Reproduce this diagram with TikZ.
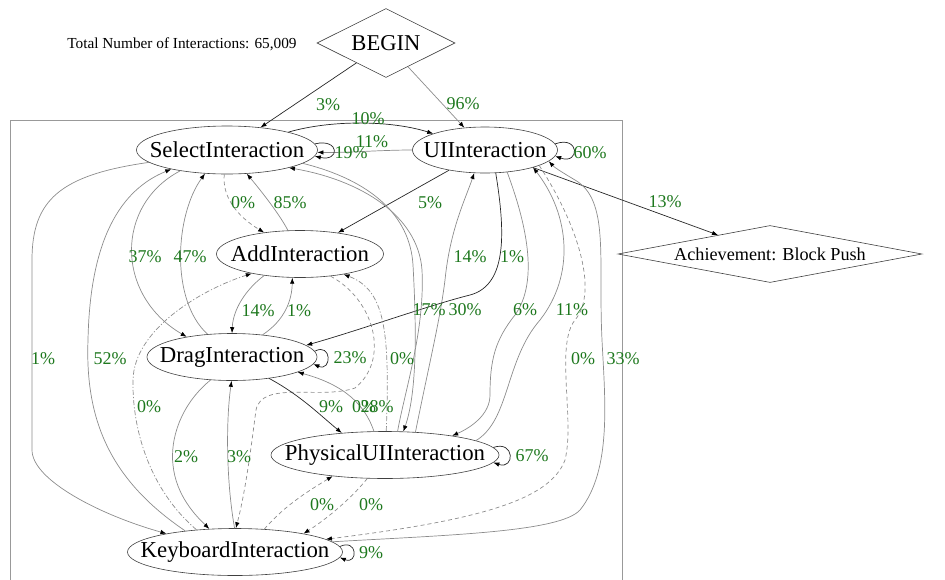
\documentclass[tikz,border=0pt]{standalone}
\usepackage{fontspec}
\setmainfont{Liberation Serif}
\usetikzlibrary{shapes.geometric,arrows.meta}
\definecolor{lblgreen}{RGB}{30,120,30}
\definecolor{edgegray}{RGB}{140,140,140}
\newcommand{\zbox}[1]{\makebox[0pt]{#1}}
\begin{document}
\begin{tikzpicture}[x=1pt,y=-1pt,
  ell/.style={ellipse,draw=black!75,line width=0.6pt,inner sep=0pt,font=\fontsize{22.8}{24}\selectfont},
  dia/.style={diamond,draw=black!75,line width=0.6pt,inner sep=0pt},
  lbl/.style={text=lblgreen,font=\fontsize{18}{20}\selectfont,inner sep=0pt},
  conn/.style={draw=edgegray,line width=0.7pt,-{Latex[length=6pt,width=4.5pt,color=black]}},
  connk/.style={conn,draw=black!85},
  connz/.style={conn,dash pattern=on 4pt off 3pt},
  conndd/.style={conn,dash pattern=on 5pt off 2pt on 1.2pt off 2pt},
]
\useasboundingbox (0,0) rectangle (945,579);
% cluster
\draw[gray!80,line width=0.6pt] (10,585) -- (10,120) -- (622,120) -- (622,585);
% nodes
\node[dia,minimum width=138pt,minimum height=69pt,aspect=2,font=\fontsize{22.6}{24}\selectfont] (begin) at (386,43) {BEGIN};
\node[font=\fontsize{15.3}{17}\selectfont,inner sep=0pt] (total) at (182,44) {Total Number of Interactions: 65,009};
\node[dia,minimum width=304pt,minimum height=57pt,aspect=6,font=\fontsize{18.2}{20}\selectfont] (ach) at (770,254) {Achievement: Block Push};
\node[ell,minimum width=181pt,minimum height=48pt] (sel) at (227,150) {\zbox{SelectInteraction}};
\node[ell,minimum width=145pt,minimum height=46pt] (ui) at (485,150) {\zbox{UIInteraction}};
\node[ell,minimum width=167pt,minimum height=47pt] (add) at (300,254) {\zbox{AddInteraction}};
\node[ell,minimum width=170pt,minimum height=47pt] (drag) at (232,357) {\zbox{DragInteraction}};
\node[ell,minimum width=228pt,minimum height=47pt] (phys) at (385,455) {\zbox{PhysicalUIInteraction}};
\node[ell,minimum width=215pt,minimum height=47pt] (key) at (235,552) {\zbox{KeyboardInteraction}};
% edges
\draw[connk] (begin) -- (sel);
\draw[conn] (begin) -- (ui);
\draw[connk] (sel) .. controls (330,120) and (390,120) .. (ui);
\draw[conn] (ui) .. controls (380,150) and (345,153) .. (sel);
\draw[connk] (sel.4) .. controls (340,138) and (340,162) .. (sel.-4);
\draw[connk] (ui.5) .. controls (580,135) and (580,165) .. (ui.-5);
\draw[connk] (ui) -- (ach);
\draw[connz] (sel) .. controls (222,195) and (235,215) .. (add);
\draw[conn] (add) .. controls (280,215) and (262,192) .. (sel);
\draw[connk] (ui) -- (add);
\draw[conn] (sel.204) .. controls (115,205) and (115,295) .. (drag.156);
\draw[conn] (drag.137) .. controls (170,300) and (175,215) .. (sel.227);
\draw[conn] (phys.37) .. controls (430,360) and (440,320) .. (445,280) .. controls (450,230) and (465,200) .. (ui.245);
\draw[connk] (ui.295) .. controls (505,230) and (508,285) .. (470,295) .. controls (430,305) and (360,330) .. (drag.9);
\draw[conn] (add.211) .. controls (245,290) and (233,310) .. (drag.90);
\draw[conn] (drag.36) .. controls (285,320) and (292,300) .. (add.252);
\draw[conn] (sel.350) .. controls (370,180) and (410,215) .. (413,265) .. controls (416,320) and (418,390) .. (phys.52);
\draw[conn] (phys.62) .. controls (405,390) and (425,330) .. (422,270) .. controls (418,215) and (360,180) .. (sel.344);
\draw[conn] (ui.315) .. controls (525,220) and (540,280) .. (515,315) .. controls (495,340) and (490,360) .. (490,395) .. controls (490,415) and (470,428) .. (phys.16);
\draw[conn] (phys.9) .. controls (510,420) and (505,360) .. (540,320) .. controls (575,275) and (570,215) .. (ui.340);
\draw[conn] (sel.189) .. controls (60,175) and (32,200) .. (32,260) -- (32,450) .. controls (32,480) and (100,515) .. (key.165);
\draw[conn] (key.157) .. controls (110,480) and (85,420) .. (88,340) .. controls (90,240) and (120,190) .. (sel.199);
\draw[conndd] (key.150) .. controls (150,490) and (132,430) .. (133,380) .. controls (134,330) and (200,290) .. (add.202);
\draw[conndd] (phys.87) .. controls (390,330) and (385,290) .. (add.335);
\draw[connz] (add.324) .. controls (375,300) and (390,360) .. (355,388) .. controls (320,400) and (262,380) .. (256,410) .. controls (252,440) and (246,490) .. (key.88);
\draw[connk] (drag.330) .. controls (300,395) and (320,415) .. (phys.153);
\draw[conn] (phys.115) .. controls (365,405) and (345,385) .. (drag.347);
\draw[conn] (drag.227) .. controls (180,405) and (170,440) .. (173,465) .. controls (176,495) and (195,515) .. (key.138);
\draw[conn] (key.91) .. controls (226,480) and (226,420) .. (drag.269);
\draw[connz] (key.38) .. controls (285,505) and (310,490) .. (phys.202);
\draw[connz] (phys.233) .. controls (350,500) and (325,520) .. (key.15);
\draw[connk] (phys.4) .. controls (515,440) and (515,470) .. (phys.-4);
\draw[connk] (key.3) .. controls (358,538) and (358,565) .. (key.-3);
\draw[connz] (ui.344) .. controls (575,220) and (600,290) .. (575,320) .. controls (555,345) and (575,420) .. (565,460) .. controls (550,500) and (480,520) .. (key.8);
\draw[conn] (key.6) .. controls (450,535) and (560,532) .. (580,510) .. controls (612,470) and (605,400) .. (602,340) .. controls (598,260) and (610,200) .. (575,180) .. controls (565,174) and (555,168) .. (ui.350);
\draw[connk] (drag.4) .. controls (332,342) and (332,372) .. (drag.-5);
% labels
\node[lbl] (l1) at (328,105) {3\%};
\node[lbl] (l2) at (463,104) {96\%};
\node[lbl] (l3) at (368,119) {10\%};
\node[lbl] (l4) at (372,142) {11\%};
\node[lbl] (l5) at (351,153) {19\%};
\node[lbl] (l6) at (590,153) {60\%};
\node[lbl] (l7) at (665,202) {13\%};
\node[lbl] (l8) at (243,203) {0\%};
\node[lbl] (l9) at (290,203) {85\%};
\node[lbl] (l10) at (430,203) {5\%};
\node[lbl] (l11) at (145,257) {37\%};
\node[lbl] (l12) at (190,257) {47\%};
\node[lbl] (l13) at (470,257) {14\%};
\node[lbl] (l14) at (512,257) {1\%};
\node[lbl] (l15) at (258,311) {14\%};
\node[lbl] (l16) at (299,311) {1\%};
\node[lbl] (l17) at (429,310) {17\%};
\node[lbl] (l18) at (465,310) {30\%};
\node[lbl] (l19) at (525,310) {6\%};
\node[lbl] (l20) at (572,310) {11\%};
\node[lbl] (l21) at (43,359) {1\%};
\node[lbl] (l22) at (110,359) {52\%};
\node[lbl] (l23) at (350,358) {23\%};
\node[lbl] (l24) at (402,359) {0\%};
\node[lbl] (l25) at (583,359) {0\%};
\node[lbl] (l26) at (623,359) {33\%};
\node[lbl] (l27) at (149,407) {0\%};
\node[lbl] (l28) at (331,407) {9\%};
\node[lbl] (l29) at (364,407) {0\%};
\node[lbl] (l30) at (377,407) {28\%};
\node[lbl] (l31) at (186,457) {2\%};
\node[lbl] (l32) at (239,457) {3\%};
\node[lbl] (l33) at (532,456) {67\%};
\node[lbl] (l34) at (322,505) {0\%};
\node[lbl] (l35) at (371,505) {0\%};
\node[lbl] (l36) at (371,553) {9\%};
\end{tikzpicture}
\end{document}
